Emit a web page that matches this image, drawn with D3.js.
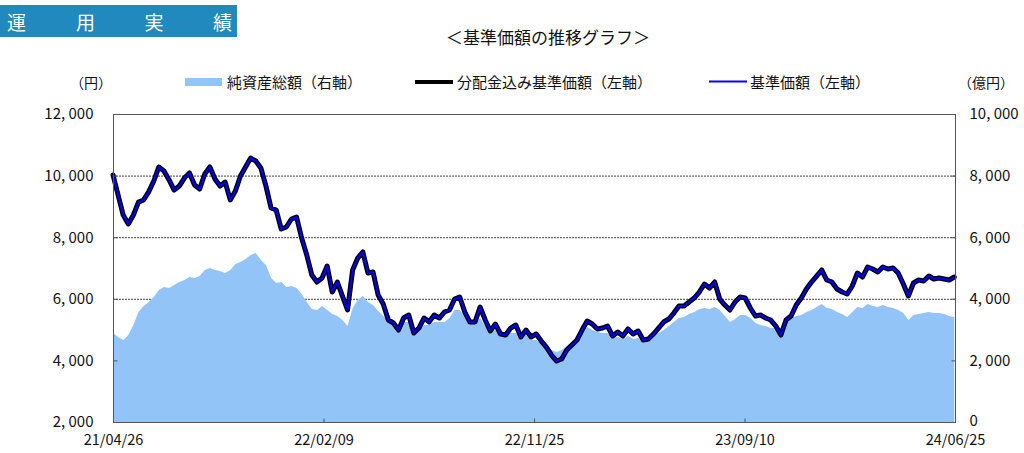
<!DOCTYPE html>
<html><head><meta charset="utf-8">
<script src="https://cdn.jsdelivr.net/npm/d3@7"></script>
<style>
body{margin:0;background:#fff}
svg{display:block}
text{font-family:"Noto Sans CJK JP","Noto Sans",sans-serif}
</style>
</head><body>
<svg id="chart" width="1024" height="453"></svg>
<script>
// ---------- data ----------
const headerChars = ["運","用","実","績"];
const titleText = "＜基準価額の推移グラフ＞";
const legendLabels = ["純資産総額（右軸）","分配金込み基準価額（左軸）","基準価額（左軸）"];
const leftUnit = "（円）";
const rightUnit = "（億円）";
const startDate = "2021-04-26";
const endDate = "2024-06-25";
const stepDays = 7; // weekly observations
const xTickLabels = ["21/04/26","22/02/09","22/11/25","23/09/10","24/06/25"];
const leftTicks = [2000,4000,6000,8000,10000,12000];
const rightTicks = [0,2000,4000,6000,8000,10000];
const gridValues = [6000,8000,10000];

// 基準価額 (円), weekly
const navValues = [
10020,9370,8720,8430,8720,9140,9210,9470,9825,10280,
10150,9860,9530,9660,9920,10085,9695,9565,10050,10280,
9890,9660,9790,9210,9500,9987,10280,10570,10474,10247,
9660,8948,8883,8266,8331,8591,8656,7974,7422,6772,
6545,6675,7065,6220,6545,6090,5636,6935,7324,7519,
6837,6870,6123,5831,5311,5214,4986,5376,5474,4889,
5051,5376,5246,5474,5376,5571,5636,5993,6058,5571,
5246,5246,5733,5311,4954,5181,4857,4824,5051,5149,
4759,4986,4759,4857,4629,4434,4175,3980,4045,4337,
4499,4662,4986,5279,5181,5019,5051,5116,4792,4922,
4792,5019,4857,4954,4662,4694,4857,5051,5246,5344,
5538,5766,5766,5896,6026,6220,6480,6350,6545,5993,
5798,5636,5896,6058,6026,5701,5441,5474,5376,5311,
5116,4824,5311,5441,5798,6026,6318,6545,6740,6935,
6610,6545,6318,6220,6155,6415,6837,6707,7032,6967,
6870,7032,6967,7000,6837,6480,6090,6513,6610,6578,
6740,6642,6675,6642,6610,6707
];
// 分配金込み基準価額 (円) — no distributions, identical to NAV
const reinvestedNavValues = navValues.slice();
// 純資産総額 (億円), weekly
const netAssetValues = [
2890,2760,2663,2825,3150,3572,3767,3896,4059,4286,
4383,4351,4448,4546,4611,4708,4676,4741,4935,5000,
4935,4903,4838,4935,5130,5195,5293,5422,5487,5260,
5098,4676,4513,4546,4383,4416,4351,4156,3896,3669,
3637,3767,3637,3507,3442,3312,3117,3702,3961,4091,
3896,3799,3604,3442,3279,3085,3117,3247,3247,3052,
2987,3150,3150,3247,3247,3247,3377,3637,3637,3442,
3279,3215,3377,3117,2922,2987,2760,2792,2890,2890,
2727,2825,2663,2663,2533,2403,2338,2273,2338,2468,
2598,2727,2955,3085,2987,2922,2890,2890,2727,2760,
2695,2792,2695,2727,2630,2663,2792,2890,2987,3117,
3247,3377,3409,3507,3572,3669,3702,3669,3734,3637,
3442,3247,3344,3474,3474,3377,3215,3150,3117,3052,
3052,3052,3247,3377,3442,3474,3572,3637,3734,3831,
3702,3669,3572,3507,3409,3572,3734,3702,3831,3767,
3734,3799,3734,3702,3637,3539,3312,3474,3507,3539,
3572,3539,3539,3507,3442,3409
];

// ---------- layout ----------
const svg = d3.select("#chart");
const M = {left:113, right:955, top:114, bottom:422};
const parse = d3.timeParse("%Y-%m-%d");
const parseTick = d3.timeParse("%y/%m/%d");
const t0 = parse(startDate);
const dates = navValues.map((_, i) => d3.timeDay.offset(t0, i * stepDays));

const x = d3.scaleTime().domain([t0, parse(endDate)]).range([M.left, M.right]);
const yL = d3.scaleLinear().domain([2000,12000]).range([M.bottom, M.top]);
const yR = d3.scaleLinear().domain([0,10000]).range([M.bottom, M.top]);
const fmt = v => d3.format(",")(v).replace(",", ", ");

// header box
svg.append("rect").attr("x",0).attr("y",5).attr("width",237).attr("height",32).attr("fill","#2189bd");
const headerX = [16.5, 85.5, 154, 222.5];
svg.selectAll("text.hdr").data(headerChars).join("text").attr("class","hdr")
  .attr("x",(d,i)=>headerX[i]).attr("y",30).attr("text-anchor","middle")
  .attr("fill","#fff").attr("font-size",19).text(d=>d);

// title
svg.append("text").attr("x",548).attr("y",44).attr("text-anchor","middle")
  .attr("font-size",17).attr("fill","#111").text(titleText);

// units
svg.append("text").attr("x",70).attr("y",88).attr("font-size",14).attr("fill","#111").text(leftUnit);
svg.append("text").attr("x",958).attr("y",88).attr("font-size",14).attr("fill","#111").text(rightUnit);

// legend
svg.append("rect").attr("x",185).attr("y",78).attr("width",37).attr("height",8).attr("fill","#92c4f8");
svg.append("text").attr("x",227).attr("y",88).attr("font-size",15).attr("fill","#111").text(legendLabels[0]);
svg.append("line").attr("x1",415).attr("x2",453).attr("y1",82).attr("y2",82).attr("stroke","#000").attr("stroke-width",4);
svg.append("text").attr("x",457).attr("y",88).attr("font-size",15).attr("fill","#111").text(legendLabels[1]);
svg.append("line").attr("x1",709).attr("x2",747).attr("y1",81.5).attr("y2",81.5).attr("stroke","#0000ff").attr("stroke-width",2);
svg.append("text").attr("x",750).attr("y",88).attr("font-size",15).attr("fill","#111").text(legendLabels[2]);

// gridlines
svg.append("g").selectAll("line").data(gridValues).join("line")
  .attr("x1",M.left).attr("x2",M.right)
  .attr("y1",d=>yL(d)+0.5).attr("y2",d=>yL(d)+0.5)
  .attr("stroke","#444").attr("stroke-width",1).attr("stroke-dasharray","2,1");

// area (net assets, right axis)
const area = d3.area().x((d,i)=>x(dates[i])).y0(yR(0)).y1(d=>yR(d));
svg.append("path").datum(netAssetValues).attr("d",area).attr("fill","#92c4f8");

// lines
const lineL = d3.line().x((d,i)=>x(dates[i])).y(d=>yL(d));
svg.append("path").datum(reinvestedNavValues).attr("d",lineL).attr("fill","none")
  .attr("stroke","#000").attr("stroke-width",5).attr("stroke-linejoin","round").attr("stroke-linecap","round");
svg.append("path").datum(navValues).attr("d",lineL).attr("fill","none")
  .attr("stroke","#0000ff").attr("stroke-width",2).attr("stroke-linejoin","round");

// frame
svg.append("rect").attr("x",M.left+0.5).attr("y",M.top+0.5)
  .attr("width",M.right-M.left).attr("height",M.bottom-M.top)
  .attr("fill","none").attr("stroke","#555").attr("stroke-width",1);

// axes
const styleAxis = g => {
  g.select(".domain").remove();
  g.selectAll(".tick line").attr("stroke","#555");
  g.selectAll(".tick text").attr("fill","#111").attr("font-size",15)
    .attr("font-family","\"Noto Sans CJK JP\",sans-serif");
};
svg.append("g").attr("transform",`translate(${M.left+0.5},0)`)
  .call(d3.axisLeft(yL).tickValues(leftTicks).tickFormat(fmt).tickSize(-4).tickPadding(20))
  .call(styleAxis);
svg.append("g").attr("transform",`translate(${M.right+0.5},0)`)
  .call(d3.axisRight(yR).tickValues(rightTicks).tickFormat(fmt).tickSize(-4).tickPadding(14))
  .call(styleAxis)
  .call(g => g.selectAll(".tick text").filter(d => d === 0).attr("dy","0.2em"));
svg.append("g").attr("transform",`translate(0,${M.bottom+0.5})`)
  .call(d3.axisBottom(x).tickValues(xTickLabels.map(parseTick)).tickFormat((d,i)=>xTickLabels[i]).tickSize(-4).tickPadding(12))
  .call(styleAxis)
  .call(g => g.selectAll(".tick text").attr("font-size",14.5));
</script>
</body></html>
